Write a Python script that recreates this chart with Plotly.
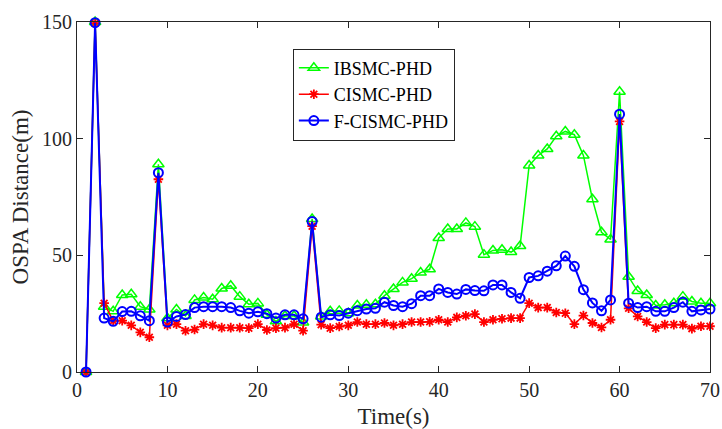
import plotly.graph_objects as go

time_s = list(range(1, 71))

ibsmc = [0, 150, 28, 26, 33, 33.3, 28, 26.8, 89, 23,
         26.8, 24, 30.9, 31.9, 31.2, 35.8, 37, 32.3, 29, 29.4,
         24.5, 21.7, 24, 24, 21.2, 65.6, 23.8, 26, 26.2, 25.2,
         28.5, 28.8, 29, 32.7, 35.6, 38.4, 40, 42.6, 44, 57.4,
         61.3, 61.3, 63.9, 62.3, 50.3, 52.1, 52.4, 51.4, 54, 88.5,
         92.8, 95.6, 101, 103.1, 101.7, 92.8, 74, 59.9, 56.8, 120.1,
         40.8, 34.7, 33, 28.5, 28.8, 29.5, 32.3, 30.2, 29.5, 29.5]

cismc = [0, 149.5, 29.5, 21.9, 22, 20, 17, 14.9, 82.6, 20,
         20.5, 17.7, 18.2, 20.5, 20, 19, 19, 19, 18.8, 20.5,
         18, 18.8, 19, 20.5, 17.7, 62.5, 20.3, 18.8, 19.5, 20,
         21.4, 20.5, 20.5, 21, 20, 20.5, 21.4, 21.4, 21.5, 22.4,
         21.4, 23.4, 24.1, 24.8, 21.4, 22.4, 22.8, 23.1, 23.1, 29.5,
         27.6, 27.6, 25.5, 25.2, 20.5, 24.2, 21, 19.1, 22.4, 107.4,
         27.3, 23.8, 21.4, 18.8, 20.3, 20.3, 20.3, 18.6, 19.6, 19.6]

fcismc = [0, 149.7, 23.1, 21.7, 25.9, 26, 24.1, 22, 85.4, 21.4,
          23.8, 24.6, 27.6, 28, 28, 28, 27.6, 26.2, 25.2, 25.8,
          25, 23.1, 24.5, 24.5, 22.8, 64.5, 23.5, 24.5, 24.2, 25.2,
          26.3, 27, 27.3, 29.9, 28.5, 28, 29.3, 32.7, 32.7, 35.6,
          34.1, 33.4, 35.4, 34.9, 34.8, 37.3, 37.3, 34.1, 31.6, 40.5,
          41.2, 43.2, 45.5, 49.7, 45.3, 35.3, 29.6, 26.2, 30.9, 110.5,
          29.5, 27.6, 28, 26, 26, 27.6, 29.9, 26, 26.6, 27]

x_ticks = [0, 10, 20, 30, 40, 50, 60, 70]
y_ticks = [0, 50, 100, 150]

SERIF = "Liberation Serif, Times New Roman, serif"

fig = go.Figure()
fig.add_trace(go.Scatter(
    x=time_s, y=ibsmc, mode="lines+markers", name="IBSMC-PHD",
    line=dict(color="#00FF00", width=1.5),
    marker=dict(symbol="triangle-up-open", size=10, color="#00FF00", line=dict(width=1.5)),
    cliponaxis=False))
fig.add_trace(go.Scatter(
    x=time_s, y=cismc, mode="lines+markers", name="CISMC-PHD",
    line=dict(color="#FF0000", width=1.5),
    marker=dict(symbol="asterisk-open", size=8, color="#FF0000", line=dict(width=1.8, color="#FF0000")),
    cliponaxis=False))
fig.add_trace(go.Scatter(
    x=time_s, y=fcismc, mode="lines+markers", name="F-CISMC-PHD",
    line=dict(color="#0000FF", width=2),
    marker=dict(symbol="circle-open", size=9, color="#0000FF", line=dict(width=2)),
    cliponaxis=False))

axis_common = dict(
    showline=True, linecolor="#262626", linewidth=1, mirror="ticks",
    ticks="inside", ticklen=6, tickcolor="#262626", tickwidth=1,
    showgrid=False, zeroline=False,
    tickfont=dict(family=SERIF, size=20, color="#262626"),
)

fig.update_layout(
    width=722, height=429,
    margin=dict(l=77, r=11, t=18, b=57),
    paper_bgcolor="white", plot_bgcolor="white",
    font=dict(family=SERIF, color="#262626"),
    xaxis=dict(range=[0, 70], tickvals=x_ticks, automargin=False,
               title=dict(text="Time(s)", font=dict(family=SERIF, size=23, color="#262626")),
               **axis_common),
    yaxis=dict(range=[0, 150], tickvals=y_ticks, automargin=True,
               title=dict(text="OSPA Distance(m)", standoff=6,
                          font=dict(family=SERIF, size=23, color="#262626")),
               **axis_common),
    legend=dict(x=0.341, y=0.924, xanchor="left", yanchor="top",
                bgcolor="white", bordercolor="#262626", borderwidth=1,
                font=dict(family=SERIF, size=18, color="#000000"),
                tracegroupgap=0, itemwidth=30),
    showlegend=True,
)

fig.write_html("out.html", config={"displayModeBar": False},
               post_script="document.body.style.margin='0';")
